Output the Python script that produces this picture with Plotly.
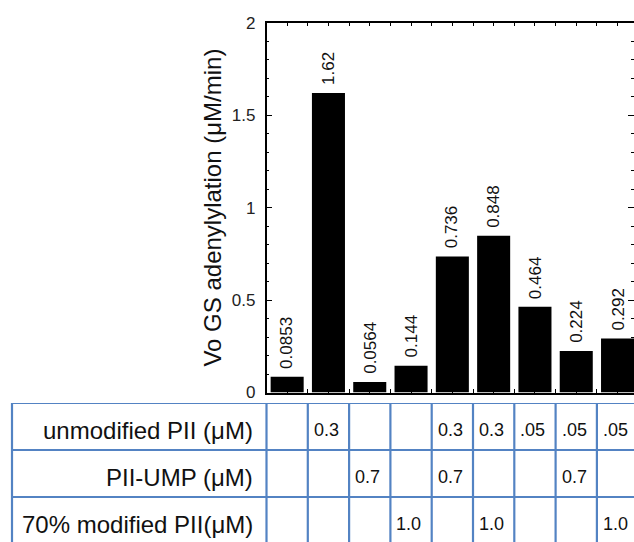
import plotly.graph_objects as go

# ---------------- data ----------------
conditions = [1, 2, 3, 4, 5, 6, 7, 8, 9]
vo_rates = [0.0853, 1.62, 0.0564, 0.144, 0.736, 0.848, 0.464, 0.224, 0.292]
rate_labels = ["0.0853", "1.62", "0.0564", "0.144", "0.736", "0.848", "0.464", "0.224", "0.292"]
row_labels = ["unmodified PII (μM)", "PII-UMP (μM)", "70% modified PII(μM)"]
unmodified_pii = ["", "0.3", "", "", "0.3", "0.3", ".05", ".05", ".05"]
pii_ump = ["", "", "0.7", "", "0.7", "", "", "0.7", ""]
modified_pii_70 = ["", "", "", "1.0", "", "1.0", "", "", "1.0"]
y_tick_vals = [0, 0.5, 1, 1.5, 2]
y_tick_text = ["0", "0.5", "1", "1.5", "2"]
y_title = "Vo GS adenylylation (μM/min)"

# ---------------- layout geometry ----------------
W, H = 634, 542
FONT = "Liberation Sans, Arial, Helvetica, sans-serif"
plot_left = 266.5
unit_px = 41.3
plot_top, plot_bottom = 22.7, 392.5
table_top = 403.0
row_px = 47.0
table_left_px = 12.0
line_col = "#5383C3"

x_lo = 0.5
x_hi = x_lo + (W - plot_left) / unit_px
x2_lo = x_lo - plot_left / unit_px
table_left = x2_lo + table_left_px / unit_px

fig = go.Figure()

fig.add_trace(go.Bar(
    x=conditions, y=vo_rates, width=0.8,
    marker=dict(color="black", line=dict(width=0)),
    xaxis="x", yaxis="y", showlegend=False, hoverinfo="x+y",
))

annotations = []
for c, v, t in zip(conditions, vo_rates, rate_labels):
    annotations.append(dict(
        x=c, y=v, xref="x", yref="y", text=t, showarrow=False,
        textangle=-90, xanchor="center", yanchor="bottom", yshift=6,
        font=dict(family=FONT, size=17, color="#111"),
    ))

table_rows = [unmodified_pii, pii_ump, modified_pii_70]
for r, (lab, row) in enumerate(zip(row_labels, table_rows)):
    yc = r + 0.58
    annotations.append(dict(
        x=x_lo, y=yc, xref="x2", yref="y2", text=lab, showarrow=False,
        xanchor="right", yanchor="middle", xshift=-12,
        font=dict(family=FONT, size=24, color="#111"),
    ))
    for c, val in zip(conditions, row):
        if val:
            annotations.append(dict(
                x=c - 0.5, y=yc, xref="x2", yref="y2", text=val, showarrow=False,
                xanchor="left", yanchor="middle", xshift=4,
                font=dict(family=FONT, size=18, color="#111"),
            ))

shapes = []
n_rows = len(table_rows)
v_edges = [table_left, x_lo] + [c + 0.5 for c in conditions]
for xv in v_edges:
    shapes.append(dict(type="line", xref="x2", yref="y2", x0=xv, x1=xv,
                       y0=0, y1=n_rows + 0.5, line=dict(color=line_col, width=2.2)))
for rv in range(n_rows + 1):
    shapes.append(dict(type="line", xref="x2", yref="y2", x0=table_left, x1=x_hi + 1,
                       y0=rv, y1=rv, line=dict(color=line_col, width=2.2)))

fig.update_layout(
    width=W, height=H,
    margin=dict(l=0, r=0, t=0, b=0, pad=0, autoexpand=False),
    paper_bgcolor="white", plot_bgcolor="rgba(0,0,0,0)",
    font=dict(family=FONT, color="#111"),
    bargap=0.2,
    xaxis=dict(
        domain=[plot_left / W, 1], range=[x_lo, x_hi], anchor="y", automargin=False,
        showgrid=False, zeroline=False, showline=True, linecolor="black", linewidth=1.5,
        mirror="ticks", ticks="inside", ticklen=4, tickwidth=1.2, tickcolor="black",
        tick0=0.5, dtick=0.5, showticklabels=False,
    ),
    yaxis=dict(
        domain=[1 - plot_bottom / H, 1 - plot_top / H], range=[0, 2], anchor="x",
        automargin=False,
        showgrid=False, zeroline=False, showline=True, linecolor="black", linewidth=1.5,
        mirror="ticks", ticks="inside", ticklen=6, tickwidth=1.2, tickcolor="black",
        tickvals=y_tick_vals, ticktext=y_tick_text, ticklabelstandoff=6,
        tickfont=dict(family=FONT, size=17, color="#222"),
        minor=dict(dtick=0.1, ticks="inside", ticklen=3, tickwidth=1, tickcolor="black"),
        title=dict(text=y_title, font=dict(family=FONT, size=24, color="#111"), standoff=3),
    ),
    xaxis2=dict(
        domain=[0, 1], range=[x2_lo, x_hi], anchor="y2", automargin=False,
        visible=False, showgrid=False, zeroline=False,
    ),
    yaxis2=dict(
        domain=[0, 1 - table_top / H], range=[(H - table_top) / row_px, 0], anchor="x2",
        automargin=False, visible=False, showgrid=False, zeroline=False,
    ),
    annotations=annotations,
    shapes=shapes,
)

fig.write_html(
    "out.html",
    config={"displayModeBar": False},
    post_script="document.body.style.margin='0';document.body.style.overflow='hidden';",
)
